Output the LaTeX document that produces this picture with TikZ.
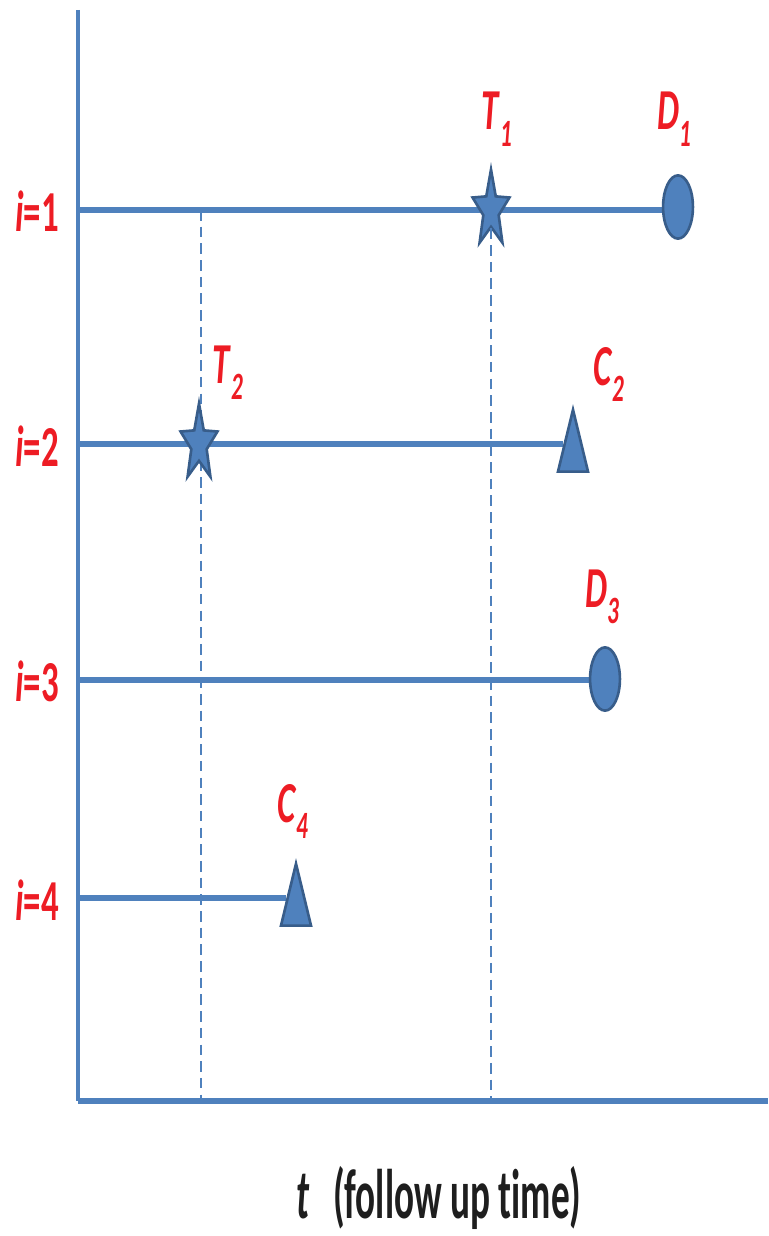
\documentclass[tikz,border=0pt]{standalone}
\usepackage{fontspec}
\setmainfont{Carlito}[FakeStretch=0.6]
\newfontfamily\axisfont{Carlito}[FakeStretch=0.53, Ligatures=NoCommon]
\usetikzlibrary{shapes.geometric}
\definecolor{lineblue}{RGB}{79,129,189}
\definecolor{markedge}{RGB}{56,93,138}
\definecolor{labelred}{RGB}{237,28,36}
\definecolor{axistext}{RGB}{30,30,30}
\newcommand{\evlabel}[2]{\textit{#1}\raisebox{-9.5pt}{\fontsize{22}{24}\selectfont\textit{#2}}}
\newcommand{\rowlabel}[2]{\node[redlabel] (i#1) at (15,#2) {\textit{i}=#1};}
\tikzset{
  axis/.style={draw=lineblue, line width=2.3pt},
  baseaxis/.style={draw=lineblue, line width=3.6pt},
  rowline/.style={draw=lineblue, line width=3.6pt},
  dropline/.style={draw=lineblue, line width=1.2pt, dash pattern=on 6pt off 3.5pt},
  markfill/.style={fill=lineblue, draw=markedge, line width=1.5pt, inner sep=0pt},
  event/.style={star, star points=5, star point ratio=2.4, minimum size=46pt, transform shape, xscale=0.48},
  death/.style={ellipse, minimum width=17pt, minimum height=36pt},
  censor/.style={regular polygon, regular polygon sides=3, minimum size=47pt, transform shape, xscale=0.42},
  redlabel/.style={text=labelred, font=\fontsize{33}{36}\selectfont\bfseries, inner sep=0pt, anchor=base west},
  timelabel/.style={text=axistext, font=\axisfont\fontsize{40}{44}\selectfont\bfseries, inner sep=0pt, anchor=base west}
}

\begin{document}
\begin{tikzpicture}[x=0.02cm, y=-0.02cm]
  \useasboundingbox (0,0) rectangle (768,1236);
  % axes
  \coordinate (top) at (78,10);
  \coordinate (o) at (78,1101);
  \coordinate (tend) at (768,1101);
  \draw[axis] (top) -- (o);
  \draw[baseaxis] (o) -- (tend);
  % rows
  \coordinate (r1) at (78,210);
  \coordinate (r2) at (78,444);
  \coordinate (r3) at (78,680);
  \coordinate (r4) at (78,898);
  \coordinate (d0) at (201,210);
  \draw[dropline] (d0) -- (d0 |- o);
  \node[death] (d1) at (678,207) {};
  \node[censor] (c2) at (573,451) {};
  \node[death] (d3) at (605,679) {};
  \node[censor] (c4) at (296,905) {};
  \draw[rowline] (r1) -- (d1.west |- r1);
  \draw[rowline] (r2) -- (c2.west |- r2);
  \draw[rowline] (r3) -- (d3.west |- r3);
  \draw[rowline] (r4) -- (c4.west |- r4);
  \node[markfill, event] (t1) at (491,210) {};
  \node[markfill, event] (t2) at (199,444) {};
  \node[markfill, death] at (d1) {};
  \node[markfill, censor] at (c2) {};
  \node[markfill, death] at (d3) {};
  \node[markfill, censor] at (c4) {};
  \draw[dropline] (t1.south) -- (t1.south |- o);
  % labels
  \node[redlabel] (lt1) at (481,130) {\evlabel{T}{1}};
  \node[redlabel] (ld1) at (657,130) {\evlabel{D}{1}};
  \node[redlabel] (lt2) at (212,383) {\evlabel{T}{2}};
  \node[redlabel] (lc2) at (593,385) {\evlabel{C}{2}};
  \node[redlabel] (ld3) at (585,607) {\evlabel{D}{3}};
  \node[redlabel] (lc4) at (277,822) {\evlabel{C}{4}};
  \rowlabel{1}{232}
  \rowlabel{2}{466}
  \rowlabel{3}{701}
  \rowlabel{4}{920}
  \node[timelabel] (tl) at (296,1218) {\textit{t}\,\,(follow up time)};
\end{tikzpicture}
\end{document}
